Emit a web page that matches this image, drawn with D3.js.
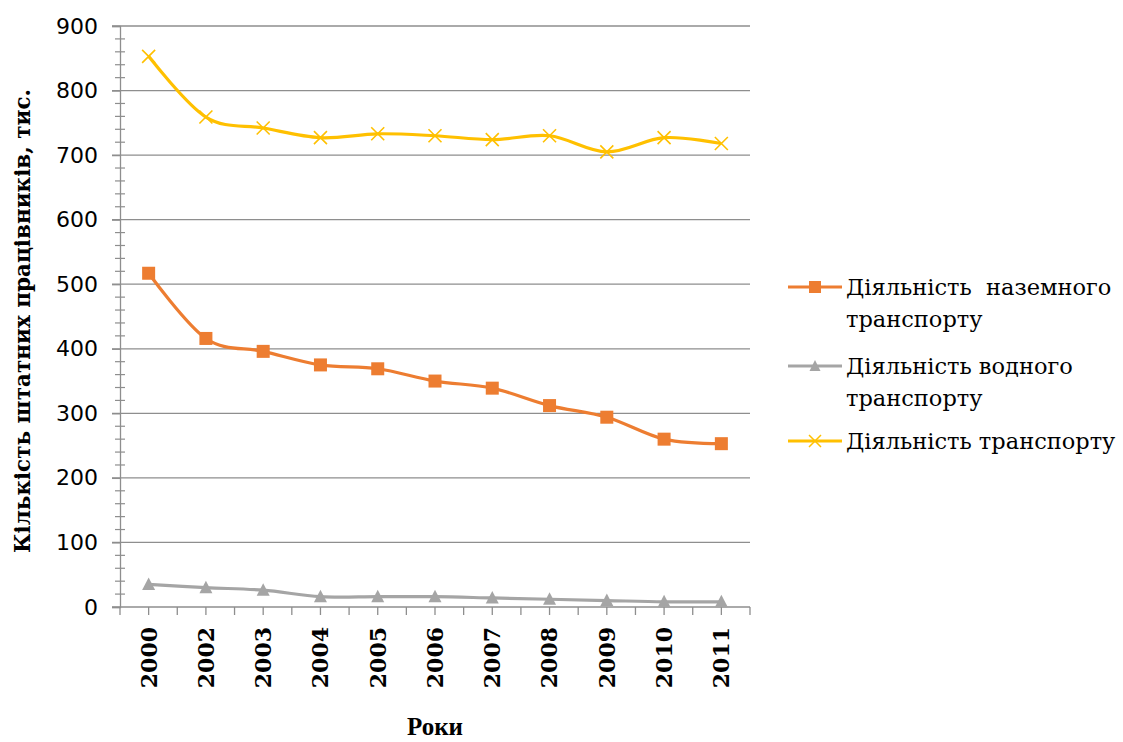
<!DOCTYPE html>
<html>
<head>
<meta charset="utf-8">
<script src="https://cdn.jsdelivr.net/npm/d3@7"></script>
<style>
  body { margin: 0; background: #fff; }
  svg { display: block; }
</style>
</head>
<body>
<svg id="chart" width="1123" height="742"></svg>
<script>
const years = ["2000", "2002", "2003", "2004", "2005", "2006", "2007", "2008", "2009", "2010", "2011"];
const landTransport = [517, 416, 396, 375, 369, 350, 339, 312, 294, 260, 253];
const waterTransport = [35, 30, 26, 16, 16, 16, 14, 12, 10, 8, 8];
const allTransport = [853, 759, 742, 727, 733, 730, 724, 730, 705, 727, 718];
const yTicks = [0, 100, 200, 300, 400, 500, 600, 700, 800, 900];

const seriesNames = [
  ["Діяльність\u00a0 наземного", "транспорту"],
  ["Діяльність водного", "транспорту"],
  ["Діяльність транспорту"]
];

const margin = { top: 26, right: 373, bottom: 135, left: 120 };
const width = 1123, height = 742;

const svg = d3.select("#chart");

const x = d3.scaleBand()
  .domain(years)
  .range([margin.left, width - margin.right])
  .paddingInner(0)
  .paddingOuter(0);

const y = d3.scaleLinear()
  .domain([0, 900])
  .range([height - margin.bottom, margin.top]);

const gridColor = "#8e8e8e";

// gridlines
svg.append("g")
  .selectAll("line")
  .data(yTicks.filter(d => d > 0))
  .join("line")
  .attr("x1", margin.left - 8)
  .attr("x2", width - margin.right)
  .attr("y1", d => y(d))
  .attr("y2", d => y(d))
  .attr("stroke", gridColor)
  .attr("stroke-width", 1.3);

// y axis
const yAxis = d3.axisLeft(y).tickValues(yTicks).tickSize(8).tickPadding(14);
const gy = svg.append("g")
  .attr("transform", `translate(${margin.left},0)`)
  .call(yAxis);
gy.select(".domain").attr("stroke", gridColor).attr("stroke-width", 1.3);
gy.selectAll(".tick line").attr("stroke", gridColor).attr("stroke-width", 1.3);
gy.selectAll(".tick text")
  .attr("fill", "#000")
  .style("font-family", "'DejaVu Sans', sans-serif")
  .style("font-size", "22px");

// minor y ticks, crossing the axis
svg.append("g")
  .selectAll("line")
  .data(d3.range(20, 900, 20).filter(d => d % 100 !== 0))
  .join("line")
  .attr("x1", margin.left - 5)
  .attr("x2", margin.left + 5)
  .attr("y1", d => y(d))
  .attr("y2", d => y(d))
  .attr("stroke", gridColor)
  .attr("stroke-width", 1.2);

// x axis line
const x0 = y(0);
svg.append("line")
  .attr("x1", margin.left - 8)
  .attr("x2", width - margin.right)
  .attr("y1", x0)
  .attr("y2", x0)
  .attr("stroke", gridColor)
  .attr("stroke-width", 1.3);

// x ticks at every half category
const halfSteps = d3.range(0, years.length * 2 + 1).map(i => margin.left + i * x.step() / 2);
svg.append("g")
  .selectAll("line")
  .data(halfSteps)
  .join("line")
  .attr("x1", d => d)
  .attr("x2", d => d)
  .attr("y1", x0)
  .attr("y2", x0 + 8)
  .attr("stroke", gridColor)
  .attr("stroke-width", 1.3);

// x labels, rotated
svg.append("g")
  .selectAll("text")
  .data(years)
  .join("text")
  .attr("transform", d => `translate(${x(d) + x.bandwidth() / 2},${x0 + 20}) rotate(-90)`)
  .attr("text-anchor", "end")
  .attr("dy", "0.36em")
  .style("font-family", "'DejaVu Serif', serif")
  .style("font-weight", "bold")
  .style("font-size", "22px")
  .text(d => d);

// axis titles
svg.append("text")
  .attr("transform", `translate(30,${y(443)}) rotate(-90)`)
  .attr("text-anchor", "middle")
  .style("font-family", "'DejaVu Serif', serif")
  .style("font-weight", "bold")
  .style("font-size", "21.5px")
  .text("Кількість штатних працівників, тис.");

svg.append("text")
  .attr("x", (margin.left + width - margin.right) / 2)
  .attr("y", 735)
  .attr("text-anchor", "middle")
  .style("font-family", "'Liberation Serif', serif")
  .style("font-weight", "bold")
  .style("font-size", "25px")
  .text("Роки");

// series
const cx = d => x(d) + x.bandwidth() / 2;
const line = d3.line()
  .x(d => cx(d.year))
  .y(d => y(d.value))
  .curve(d3.curveCardinal.tension(0));

const series = [
  { values: landTransport, color: "#ED7D31", marker: "square" },
  { values: waterTransport, color: "#A5A5A5", marker: "triangle" },
  { values: allTransport, color: "#FFC000", marker: "cross" }
];

function drawMarker(g, type, color) {
  if (type === "square") {
    g.append("rect").attr("x", -6.5).attr("y", -6.5).attr("width", 13).attr("height", 13).attr("fill", color);
  } else if (type === "triangle") {
    g.append("path").attr("d", "M0,-7 L6.5,5.5 L-6.5,5.5 Z").attr("fill", color);
  } else {
    g.append("path").attr("d", "M-6.5,-6.5 L6.5,6.5 M-6.5,6.5 L6.5,-6.5")
      .attr("stroke", color).attr("stroke-width", 1.6).attr("fill", "none");
  }
}

series.forEach(s => {
  const pts = years.map((yr, i) => ({ year: yr, value: s.values[i] }));
  svg.append("path")
    .datum(pts)
    .attr("d", line)
    .attr("fill", "none")
    .attr("stroke", s.color)
    .attr("stroke-width", 3.2)
    .attr("stroke-linejoin", "round");
  svg.append("g")
    .selectAll("g")
    .data(pts)
    .join("g")
    .attr("transform", d => `translate(${cx(d.year)},${y(d.value)})`)
    .each(function () { drawMarker(d3.select(this), s.marker, s.color); });
});

// legend
const legend = svg.append("g").attr("transform", "translate(788,0)");
const legendRows = [287, 366, 441];
series.forEach((s, i) => {
  const g = legend.append("g").attr("transform", `translate(0,${legendRows[i]})`);
  g.append("line").attr("x1", 0).attr("x2", 54).attr("y1", 0).attr("y2", 0)
    .attr("stroke", s.color).attr("stroke-width", 3.2);
  const m = g.append("g").attr("transform", "translate(27,0)");
  if (s.marker === "square") {
    m.append("rect").attr("x", -6).attr("y", -6).attr("width", 12).attr("height", 12).attr("fill", s.color);
  } else if (s.marker === "triangle") {
    m.append("path").attr("d", "M0,-6 L5.5,5 L-5.5,5 Z").attr("fill", s.color);
  } else {
    m.append("path").attr("d", "M-6,-6 L6,6 M-6,6 L6,-6")
      .attr("stroke", s.color).attr("stroke-width", 1.5).attr("fill", "none");
  }
  const t = g.append("text")
    .attr("x", 58)
    .attr("y", 0)
    .style("font-family", "'DejaVu Serif', serif")
    .style("font-size", "22.5px");
  seriesNames[i].forEach((ln, j) => {
    t.append("tspan").attr("x", 58).attr("dy", j === 0 ? "0.35em" : 32).text(ln);
  });
});
</script>
</body>
</html>
